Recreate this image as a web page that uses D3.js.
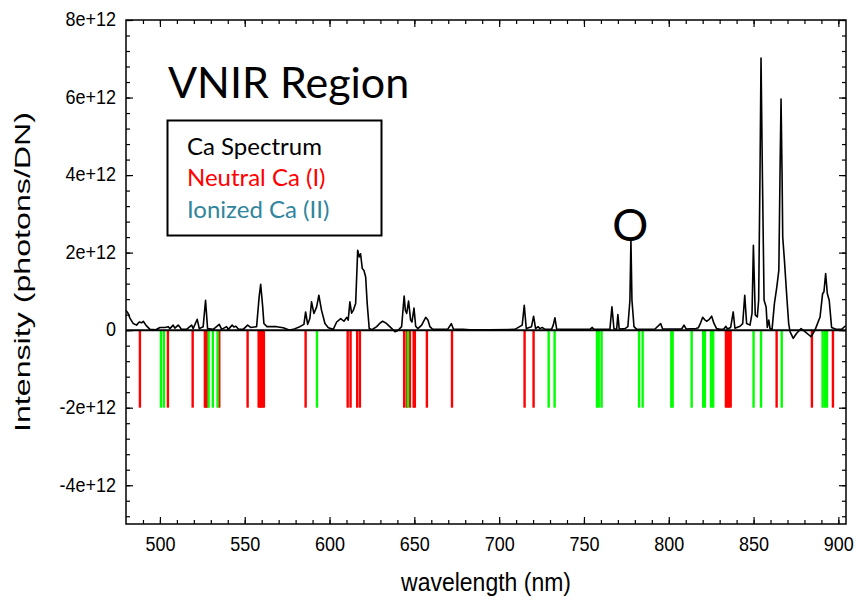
<!DOCTYPE html>
<html>
<head>
<meta charset="utf-8">
<script src="https://cdn.jsdelivr.net/npm/d3@7"></script>
<style>
  body { margin: 0; background: #fff; }
  svg { display: block; }
</style>
</head>
<body>
<svg id="chart" width="858" height="602"></svg>
<script>
// Ca emission spectrum, VNIR range. Intensity in units of 1e12 photons/DN.
const wavelength = [
  480.0, 481.3, 482.3, 484.3, 486.2, 487.8, 489.2, 490.2, 491.7, 494.1, 497.6, 500.0,
  502.9, 504.9, 505.9, 507.8, 508.8, 510.8, 512.8, 515.7, 518.7, 519.6, 522.0, 523.2,
  525.5, 526.9, 528.1, 531.4, 535.0, 536.4, 539.3, 540.3, 542.6, 543.6, 544.8, 546.2,
  549.1, 551.7, 553.5, 557.0, 558.5, 559.4, 560.6, 561.3, 563.1, 568.8, 572.7, 576.6,
  578.6, 582.5, 584.9, 585.9, 587.1, 588.4, 589.4, 590.8, 592.4, 593.7, 595.3, 597.3,
  599.3, 602.2, 604.2, 606.6, 608.5, 610.1, 611.0, 612.0, 613.0, 614.0, 615.4, 616.6,
  617.5, 618.3, 619.3, 620.3, 621.3, 622.2, 623.4, 625.0, 627.8, 629.7, 631.3, 633.3,
  636.0, 638.6, 640.3, 642.5, 644.0, 644.7, 645.5, 646.6, 647.8, 648.6, 649.8, 650.8,
  652.1, 654.3, 656.7, 658.0, 659.2, 660.8, 665.1, 669.8, 671.8, 673.0, 678.7, 682.8,
  694.6, 709.3, 713.6, 714.8, 716.0, 719.1, 720.3, 721.5, 723.0, 724.0, 725.4, 727.0,
  730.9, 731.9, 732.9, 733.9, 741.7, 753.5, 754.9, 755.9, 763.0, 765.3, 766.5, 767.7,
  769.3, 770.0, 770.8, 774.2, 775.9, 777.1, 777.7, 778.3, 779.5, 781.1, 791.9, 795.2,
  796.4, 807.6, 809.0, 810.2, 816.1, 817.4, 818.8, 820.0, 821.4, 822.5, 823.9, 825.3,
  826.6, 828.2, 830.2, 832.5, 833.7, 834.6, 836.5, 838.0, 839.0, 842.0, 843.6, 844.8,
  845.9, 847.9, 849.1, 849.9, 851.0, 852.2, 853.0, 853.8, 854.4, 855.2, 856.2, 857.4,
  858.1, 859.0, 859.7, 860.9, 862.3, 863.7, 864.9, 865.6, 866.2, 866.8, 867.2, 868.2,
  869.6, 870.7, 871.5, 873.4, 875.4, 878.0, 880.3, 883.9, 886.2, 889.2, 890.7, 891.5,
  892.5, 893.5, 894.6, 896.0, 899.0, 901.9, 903.9, 904.5
];
const intensity = [
  0.51, 0.43, 0.31, 0.17, 0.13, 0.21, 0.19, 0.23, 0.13, 0.02, 0.01, 0.07,
  0.07, 0.09, 0.04, 0.13, 0.05, 0.13, 0.02, 0.02, 0.13, 0.04, 0.28, 0.04,
  0.09, 0.77, 0.04, 0.02, 0.15, 0.02, 0.09, 0.02, 0.13, 0.08, 0.10, 0.03,
  0.02, 0.13, 0.07, 0.09, 0.86, 1.18, 0.60, 0.17, 0.09, 0.09, 0.06, 0.00,
  0.02, 0.09, 0.15, 0.47, 0.15, 0.30, 0.73, 0.43, 0.60, 0.90, 0.51, 0.17,
  0.06, 0.02, 0.21, 0.30, 0.23, 0.33, 0.26, 0.73, 0.44, 0.51, 0.69, 2.06,
  1.89, 1.97, 1.59, 1.54, 1.37, 0.69, 0.04, 0.01, 0.09, 0.18, 0.23, 0.18,
  0.07, -0.04, -0.01, 0.09, 0.88, 0.51, 0.43, 0.75, 0.26, 0.21, 0.57, 0.10,
  0.04, 0.13, 0.33, 0.26, 0.09, 0.02, 0.02, 0.03, 0.17, 0.03, 0.02, 0.01,
  0.01, 0.02, 0.13, 0.64, 0.04, 0.09, 0.36, 0.04, 0.09, 0.04, 0.07, 0.02,
  0.02, 0.13, 0.32, 0.03, 0.02, 0.02, 0.07, 0.02, 0.02, 0.02, 0.60, 0.03,
  0.03, 0.40, 0.03, 0.04, 0.09, 0.77, 2.32, 0.77, 0.09, 0.02, 0.03, 0.17,
  0.03, 0.03, 0.13, 0.03, 0.04, 0.06, 0.19, 0.33, 0.26, 0.23, 0.28, 0.36,
  0.18, 0.04, 0.02, 0.03, 0.10, 0.03, 0.07, 0.47, 0.05, 0.10, 0.17, 0.90,
  0.17, 0.13, 0.43, 2.19, 0.39, 0.34, 0.77, 4.04, 7.02, 4.04, 0.77, 0.60,
  0.07, 0.26, 0.04, 0.02, 0.69, 1.11, 1.54, 4.04, 5.96, 4.04, 2.40, 1.80,
  0.86, 0.17, -0.04, -0.21, -0.08, 0.04, -0.04, -0.17, 0.00, 0.34, 0.94, 0.99,
  1.46, 0.94, 0.77, 0.07, 0.02, 0.02, 0.10, 0.10
];

// Reference line positions (nm)
const neutralLines = [
  488.2, 504.7, 519.3, 526.5, 527.2, 527.9, 535.0, 551.7, 558.2, 559.0, 559.7, 560.5,
  561.3, 585.9, 610.7, 612.4, 616.3, 617.9, 644.0, 645.5, 647.4, 649.6, 650.3, 657.4,
  672.2, 715.0, 720.3, 833.7, 834.6, 835.5, 836.5, 863.6, 884.4, 896.8
];
const ionizedLines = [
  500.6, 502.4, 528.7, 531.2, 534.0, 592.6, 646.2, 729.2, 732.7, 757.7, 758.7, 760.4,
  782.5, 784.6, 801.5, 802.3, 813.5, 820.3, 821.3, 824.9, 826.2, 850.0, 854.4, 866.6,
  890.7, 892.1, 893.3
];
const lineDepth = -2; // marker lines run from 0 down to -2e+12

const xTickValues = [500, 550, 600, 650, 700, 750, 800, 850, 900];
const yTickValues = [-4, -2, 0, 2, 4, 6, 8];
const legendLabels = ["Ca Spectrum", "Neutral Ca (I)", "Ionized Ca (II)"];
const legendColors = ["#000000", "#ff0000", "#31859c"];

const plot = { left: 126, right: 846, top: 20, bottom: 524 };
const svg = d3.select("#chart");

const x = d3.scaleLinear().domain([480, 904.5]).range([plot.left, plot.right]);
const y = d3.scaleLinear().domain([-5, 8]).range([plot.bottom, plot.top]);

const xMinor = d3.range(490, 901, 10);
const yMinor = d3.range(-48, 81, 4).map(v => v / 10);

const axisFont = "'Liberation Sans', Arial, sans-serif";
const textFont = "Lato, 'Open Sans', sans-serif";

// Marker lines
const markers = svg.append("g");
markers.selectAll("line.neutral")
  .data(neutralLines).join("line")
  .attr("class", "neutral")
  .attr("x1", d => x(d)).attr("x2", d => x(d))
  .attr("y1", y(0)).attr("y2", y(lineDepth))
  .attr("stroke", "#ff0000").attr("stroke-width", 2.4);
markers.selectAll("line.ionized")
  .data(ionizedLines).join("line")
  .attr("class", "ionized")
  .attr("x1", d => x(d)).attr("x2", d => x(d))
  .attr("y1", y(0)).attr("y2", y(lineDepth))
  .attr("stroke", "#00ff00").attr("stroke-width", 2.4);

// Spectrum
const spectrum = wavelength.map((w, i) => [w, intensity[i]]);
svg.append("path")
  .datum(spectrum)
  .attr("fill", "none")
  .attr("stroke", "#000")
  .attr("stroke-width", 1.6)
  .attr("stroke-linejoin", "round")
  .attr("d", d3.line().x(d => x(d[0])).y(d => y(d[1])));

// Zero line
svg.append("line")
  .attr("x1", plot.left).attr("x2", plot.right)
  .attr("y1", y(0)).attr("y2", y(0))
  .attr("stroke", "#000").attr("stroke-width", 2);

// Axes with inward ticks on all four sides
function styleAxis(g) {
  g.select(".domain").remove();
  g.selectAll(".tick line").attr("stroke", "#000").attr("stroke-width", 1.2);
  g.selectAll("text").attr("font-family", axisFont).attr("font-size", 18).attr("fill", "#000");
}

const bottomAxis = svg.append("g").attr("transform", `translate(0,${plot.bottom})`)
  .call(d3.axisBottom(x).tickValues(xTickValues).tickFormat(d3.format("d"))
    .tickSizeInner(-7).tickSizeOuter(0).tickPadding(11))
  .call(styleAxis);
bottomAxis.selectAll(".tick text").attr("transform", "scale(1,1.15)");
svg.append("g").attr("transform", `translate(0,${plot.bottom})`)
  .call(d3.axisBottom(x).tickValues(xMinor).tickFormat("").tickSizeInner(-4).tickSizeOuter(0))
  .call(styleAxis);
svg.append("g").attr("transform", `translate(0,${plot.top})`)
  .call(d3.axisTop(x).tickValues(xTickValues).tickFormat("").tickSizeInner(-7).tickSizeOuter(0))
  .call(styleAxis);
svg.append("g").attr("transform", `translate(0,${plot.top})`)
  .call(d3.axisTop(x).tickValues(xMinor).tickFormat("").tickSizeInner(-4).tickSizeOuter(0))
  .call(styleAxis);

const yFormat = v => v === 0 ? "0" : `${v}e+12`;
const leftAxis = svg.append("g").attr("transform", `translate(${plot.left},0)`)
  .call(d3.axisLeft(y).tickValues(yTickValues).tickFormat(yFormat)
    .tickSizeInner(-7).tickSizeOuter(0).tickPadding(10))
  .call(styleAxis);
leftAxis.selectAll(".tick text").attr("transform", "scale(1,1.15)").attr("dy", "0.28em");
svg.append("g").attr("transform", `translate(${plot.left},0)`)
  .call(d3.axisLeft(y).tickValues(yMinor).tickFormat("").tickSizeInner(-4).tickSizeOuter(0))
  .call(styleAxis);
svg.append("g").attr("transform", `translate(${plot.right},0)`)
  .call(d3.axisRight(y).tickValues(yTickValues).tickFormat("").tickSizeInner(-7).tickSizeOuter(0))
  .call(styleAxis);
svg.append("g").attr("transform", `translate(${plot.right},0)`)
  .call(d3.axisRight(y).tickValues(yMinor).tickFormat("").tickSizeInner(-4).tickSizeOuter(0))
  .call(styleAxis);

// Plot frame
svg.append("rect")
  .attr("x", plot.left).attr("y", plot.top)
  .attr("width", plot.right - plot.left).attr("height", plot.bottom - plot.top)
  .attr("fill", "none").attr("stroke", "#000").attr("stroke-width", 1.5);

// Axis titles
svg.append("text")
  .attr("transform", `translate(${(plot.left + plot.right) / 2},591) scale(1,1.12)`)
  .attr("text-anchor", "middle")
  .attr("font-family", axisFont).attr("font-size", 23)
  .text("wavelength (nm)");
svg.append("text")
  .attr("transform", `translate(30,${(plot.top + plot.bottom) / 2}) rotate(-90)`)
  .attr("text-anchor", "middle")
  .attr("font-family", axisFont).attr("font-size", 22)
  .attr("textLength", 320).attr("lengthAdjust", "spacingAndGlyphs")
  .text("Intensity (photons/DN)");

// Title
svg.append("text")
  .attr("x", 168).attr("y", 98)
  .attr("font-family", textFont).attr("font-size", 43)
  .attr("fill", "#000")
  .text("VNIR Region");

// Oxygen line annotation
svg.append("text")
  .attr("x", x(777.3)).attr("y", 241)
  .attr("text-anchor", "middle")
  .attr("font-family", textFont).attr("font-size", 45)
  .attr("fill", "#000")
  .text("O");

// Legend
const legend = svg.append("g");
legend.append("rect")
  .attr("x", 167.5).attr("y", 120.5).attr("width", 214).attr("height", 115)
  .attr("fill", "#fff").attr("stroke", "#000").attr("stroke-width", 2);
legend.selectAll("text")
  .data(legendLabels).join("text")
  .attr("x", 187).attr("y", (d, i) => 155 + i * 31.4)
  .attr("font-family", textFont).attr("font-size", 24)
  .attr("fill", (d, i) => legendColors[i])
  .text(d => d);
</script>
</body>
</html>
